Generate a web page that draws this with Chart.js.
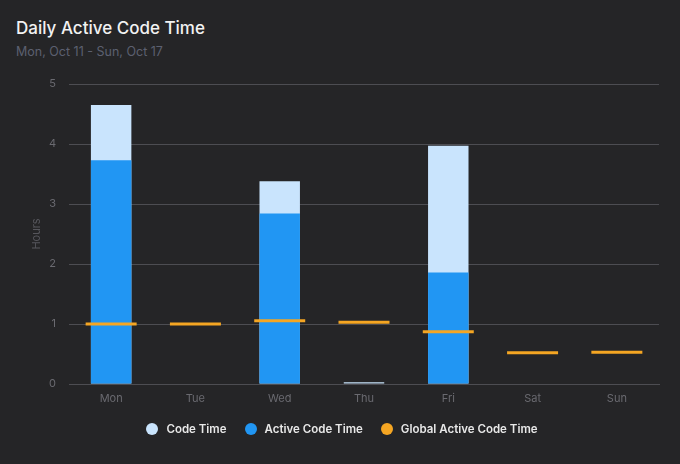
<!DOCTYPE html>
<html>
<head>
<meta charset="utf-8">
<script src="https://cdn.jsdelivr.net/npm/chart.js@4"></script>
<style>
  html, body { margin:0; padding:0; background:#252527; }
  body { width:680px; height:464px; position:relative; overflow:hidden; font-family: Inter, "Noto Sans", sans-serif; }
  #title { position:absolute; left:16px; top:18px; font-size:17px; font-weight:500; color:#f2f2f2; }
  #subtitle { position:absolute; left:16px; top:44px; font-size:12.5px; color:#5c6070; }
  #wrap { position:absolute; left:0; top:0; width:680px; height:464px; }
  #legend { position:absolute; left:2px; width:680px; top:421px; height:16px; display:flex; justify-content:center; align-items:center; font-size:11.5px; font-weight:600; color:#e8e8e8; }
  .item { display:flex; align-items:center; margin:0 9px; }
  .dot { width:12px; height:12px; border-radius:50%; margin-right:8px; }
</style>
</head>
<body>
<div id="title">Daily Active Code Time</div>
<div id="subtitle">Mon, Oct 11 - Sun, Oct 17</div>
<div id="wrap"><canvas id="c"></canvas></div>
<div id="legend"></div>
<script>
const categories = ["Mon", "Tue", "Wed", "Thu", "Fri", "Sat", "Sun"];
const codeTime = [4.65, 0, 3.38, 0.03, 3.97, 0, 0];
const activeCodeTime = [3.73, 0, 2.84, 0, 1.86, 0, 0];
const globalActiveCodeTime = [1.0, 1.0, 1.055, 1.03, 0.87, 0.52, 0.53];
const yTicks = [0, 1, 2, 3, 4, 5];

const chart = new Chart(document.getElementById('c'), {
  data: {
    labels: categories,
    datasets: [
      {
        type: 'line',
        label: 'Global Active Code Time',
        data: globalActiveCodeTime,
        showLine: false,
        pointStyle: 'line',
        pointRadius: 25.5,
        pointHoverRadius: 25.5,
        pointBorderWidth: 3,
        borderWidth: 3,
        borderColor: '#f5a623',
        backgroundColor: '#f5a623',
        clip: false,
        order: 0
      },
      {
        type: 'bar',
        label: 'Code Time',
        data: codeTime,
        backgroundColor: '#c9e4fd',
        categoryPercentage: 0.8,
        barPercentage: 0.6,
        order: 2
      },
      {
        type: 'bar',
        label: 'Active Code Time',
        data: activeCodeTime,
        backgroundColor: '#2196f3',
        categoryPercentage: 0.8,
        barPercentage: 0.6,
        order: 1
      }
    ]
  },
  options: {
    responsive: true,
    maintainAspectRatio: false,
    animation: false,
    layout: { autoPadding: false, padding: { top: 84, left: 26, right: 21, bottom: 50 } },
    scales: {
      x: {
        stacked: true,
        grid: { display: false },
        border: { display: true, color: '#4d4d52' },
        ticks: { color: '#6a6a70', font: { family: 'Inter', size: 11 }, padding: 0 },
        afterFit: (axis) => { axis.height = 30; }
      },
      y: {
        stacked: false,
        min: 0,
        max: 5,
        afterBuildTicks: (axis) => { axis.ticks = yTicks.map(v => ({ value: v })); },
        grid: { color: '#4d4d52', drawTicks: false },
        border: { display: false },
        ticks: { color: '#6a6a70', font: { family: 'Inter', size: 11 }, padding: 13 },
        title: { display: true, text: 'Hours', color: '#56565c', font: { family: 'Inter', size: 11 }, padding: 4 },
        afterFit: (axis) => { axis.width = 43; }
      }
    },
    plugins: {
      tooltip: { enabled: false },
      legend: { display: false }
    }
  }
});

// HTML legend built from the chart's datasets
const legendOrder = [1, 2, 0];
const legendEl = document.getElementById('legend');
legendOrder.forEach(i => {
  const ds = chart.data.datasets[i];
  const item = document.createElement('div');
  item.className = 'item';
  const dot = document.createElement('span');
  dot.className = 'dot';
  dot.style.background = ds.backgroundColor;
  const txt = document.createElement('span');
  txt.textContent = ds.label;
  item.appendChild(dot);
  item.appendChild(txt);
  legendEl.appendChild(item);
});
</script>
</body>
</html>
